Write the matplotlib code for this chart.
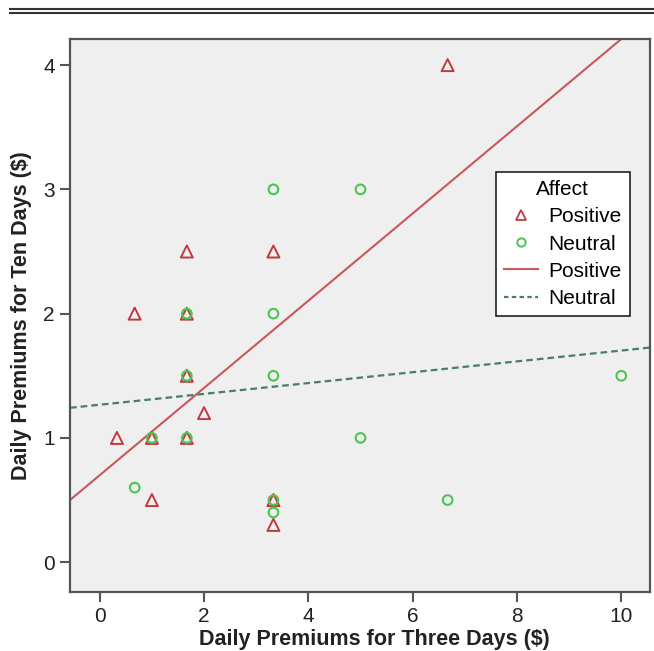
import matplotlib
matplotlib.use("Agg")
import matplotlib.pyplot as plt
from matplotlib.lines import Line2D
import numpy as np

plt.rcParams['font.family'] = ['Liberation Sans', 'DejaVu Sans']

# Data
pos_x = [0.33, 0.67, 1.0, 1.0, 1.67, 1.67, 1.67, 1.67, 2.0, 3.33, 3.33, 3.33, 6.67]
pos_y = [1.0, 2.0, 1.0, 0.5, 2.5, 2.0, 1.5, 1.0, 1.2, 2.5, 0.5, 0.3, 4.0]
neu_x = [0.67, 1.0, 1.67, 1.67, 1.67, 3.33, 3.33, 3.33, 3.33, 3.33, 5.0, 5.0, 6.67, 10.0]
neu_y = [0.6, 1.0, 2.0, 1.5, 1.0, 3.0, 2.0, 1.5, 0.5, 0.4, 3.0, 1.0, 0.5, 1.5]
# Fit lines (intercept, slope)
pos_fit = (0.70, 0.351)
neu_fit = (1.267, 0.0436)

xticks = [0, 2, 4, 6, 8, 10]
yticks = [0, 1, 2, 3, 4]

red = '#c0393f'
red_line = '#c9575c'
green = '#4cc550'
green_line = '#4a7d62'
spine_c = '#555555'

fig = plt.figure(figsize=(6.54, 6.51), dpi=100)
ax = fig.add_axes([70/654, 1-592/651, 580/654, 553/651])
ax.set_facecolor('#efefef')

xmin, xmax = -0.57, 10.55
ymin, ymax = -0.24, 4.21
ax.set_xlim(xmin, xmax)
ax.set_ylim(ymin, ymax)

xs = np.array([xmin, xmax])
ax.plot(xs, pos_fit[0] + pos_fit[1]*xs, color=red_line, lw=1.5, zorder=2)
ax.plot(xs, neu_fit[0] + neu_fit[1]*xs, color=green_line, lw=1.6, ls=(0, (3, 1.8)), zorder=2)

ax.scatter(pos_x, pos_y, marker='^', s=75, facecolors='none', edgecolors=red, linewidths=1.4, zorder=3)
ax.scatter(neu_x, neu_y, marker='o', s=48, facecolors='none', edgecolors=green, linewidths=1.5, zorder=4)

ax.set_xticks(xticks)
ax.set_yticks(yticks)
ax.tick_params(axis='both', direction='out', length=7, width=1.5, color=spine_c,
               labelsize=15, labelcolor='#222222', pad=4)
for s in ax.spines.values():
    s.set_color(spine_c)
    s.set_linewidth(1.6)

ax.set_xlabel('Daily Premiums for Three Days ($)', fontsize=15.5, fontweight='bold', color='#222222')
ax.set_ylabel('Daily Premiums for Ten Days ($)', fontsize=15.5, fontweight='bold', color='#222222')
ax.xaxis.set_label_coords((374-70)/580, -(640-592)/553, transform=ax.transAxes)
ax.xaxis.label.set_va('center')
ax.yaxis.set_label_coords(-(70-22)/580, 0.5, transform=ax.transAxes)
ax.yaxis.label.set_va('center')

handles = [
    Line2D([], [], marker='^', ls='none', markerfacecolor='none', markeredgecolor=red, markersize=7, markeredgewidth=1.3),
    Line2D([], [], marker='o', ls='none', markerfacecolor='none', markeredgecolor=green, markersize=6, markeredgewidth=1.4),
    Line2D([], [], color=red_line, lw=1.5),
    Line2D([], [], color=green_line, lw=1.6, ls=(0, (2, 1.5))),
]
leg = ax.legend(handles, ['Positive', 'Neutral', 'Positive', 'Neutral'], title='Affect',
                loc='upper left', bbox_to_anchor=((496-70)/580, (592-172)/553),
                fontsize=15, title_fontsize=15, frameon=True, fancybox=False,
                edgecolor='#222222', framealpha=1, handlelength=1.6, handletextpad=0.5,
                labelspacing=0.39, borderpad=0.4, borderaxespad=0)
leg.get_frame().set_linewidth(1.2)

# Double rule at top
for yy in [8.5/651, 12.5/651]:
    fig.add_artist(Line2D([10/654, 1.0], [1-yy, 1-yy], color='#333333', lw=1.5, transform=fig.transFigure))

fig.savefig('out.png', dpi=100)
